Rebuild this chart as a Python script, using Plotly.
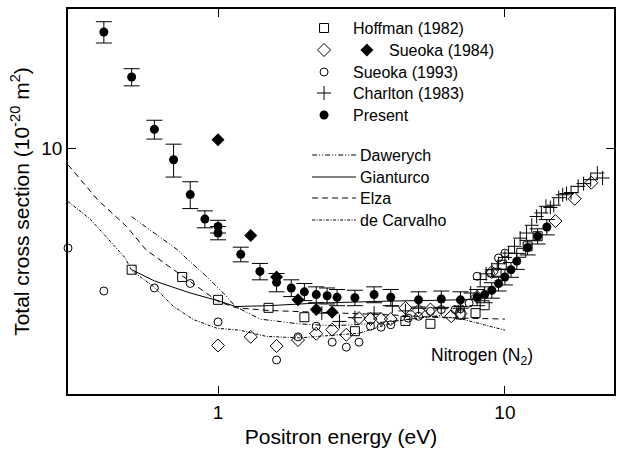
import plotly.graph_objects as go

# ---------------- data (energy in eV, cross section in 1e-20 m^2) ----------------
present_E = [0.4, 0.5, 0.6, 0.7, 0.8, 0.9, 1.0, 1.0, 1.2, 1.4, 1.6, 1.8, 2.0, 2.2, 2.4, 2.6,
             3.0, 3.5, 4.0, 5.0, 6.0, 7.0, 8.0, 8.5, 9.0, 9.5, 10.0, 10.5, 11.0, 12.0, 13.0, 14.0]
present_S = [21.5, 16.0, 11.35, 9.3, 7.4, 6.3, 6.0, 5.75, 5.0, 4.47, 4.16, 4.01, 3.91, 3.84, 3.81, 3.77,
             3.76, 3.84, 3.77, 3.71, 3.73, 3.71, 3.77, 3.84, 3.95, 4.13, 4.31, 4.52, 4.78, 5.23, 5.63, 5.98]
present_err = [1.5, 0.9, 0.7, 1.0, 0.65, 0.35, 0.25, 0.25, 0.24, 0.24, 0.25, 0.22, 0.22, 0.2, 0.2, 0.2,
               0.19, 0.2, 0.2, 0.2, 0.2, 0.2, 0.2, 0.2, 0.2, 0.2, 0.22, 0.22, 0.25, 0.25, 0.28, 0.3]

hoffman_E = [0.5, 0.75, 1.0, 1.5, 2.0, 3.0, 4.5, 5.5, 7.0, 7.9, 8.5, 9.35, 9.75, 11.4, 12.0, 13.0]
hoffman_S = [4.52, 4.31, 3.71, 3.52, 3.31, 3.02, 3.23, 3.17, 3.37, 3.4, 3.58, 4.43, 4.67, 5.05, 5.27, 5.63]

sueoka84_open_E = [1.0, 1.3, 1.6, 1.9, 2.2, 2.5, 2.8, 3.1, 3.4, 3.7, 4.0, 4.5, 5.0, 5.5, 6.5, 7.0,
                   8.0, 9.0, 15.0, 17.5, 20.0]
sueoka84_open_S = [2.75, 2.91, 2.74, 2.85, 2.97, 3.05, 2.95, 3.29, 3.27, 3.27, 3.27, 3.52, 3.46, 3.48, 3.33, 3.39,
                   3.78, 4.45, 6.22, 7.2, 8.0]
sueoka84_fill_E = [1.0, 1.3, 1.6, 1.9, 2.2, 2.5]
sueoka84_fill_S = [10.6, 5.66, 4.31, 3.71, 3.48, 3.42]

sueoka93_E = [0.3, 0.4, 0.6, 0.8, 1.0, 1.6, 1.9, 2.2, 2.5, 2.8, 3.1, 3.4, 3.7, 4.0, 4.6, 5.0, 5.5, 6.0,
              6.7, 7.0, 7.5, 8.0, 8.9, 9.5, 10.0]
sueoka93_S = [5.21, 3.93, 4.01, 4.13, 3.21, 2.5, 2.91, 3.12, 2.81, 2.72, 2.81, 3.12, 3.1, 3.15, 3.29, 3.33, 3.44, 3.48,
              3.48, 3.5, 3.63, 4.33, 4.42, 4.88, 5.04]

charlton_E = [2.3, 2.65, 3.0, 3.5, 4.05, 4.5, 5.0, 6.0, 7.0, 7.6, 8.2, 8.6, 9.0, 9.5, 10.0, 10.3, 10.8, 11.3,
              11.9, 12.4, 12.9, 13.4, 13.9, 14.4, 14.8, 15.4, 15.9, 16.4, 17.0, 18.0, 18.8, 19.9, 21.0, 21.9]
charlton_S = [3.40, 3.22, 3.3, 3.4, 3.56, 3.45, 3.54, 3.5, 3.55, 3.88, 4.24, 4.4, 4.52, 4.7, 4.9, 5.04, 5.27, 5.56,
              5.75, 6.05, 6.41, 6.56, 6.85, 6.8, 6.9, 7.25, 7.39, 7.45, 7.5, 7.81, 7.95, 8.16, 8.52, 8.25]

dawerych_E = [0.5, 0.63, 0.72, 0.77, 0.91, 1.07, 1.15, 1.4, 1.9, 2.5, 3.0, 4.0, 5.0, 6.0]
dawerych_S = [6.4, 5.57, 5.16, 4.9, 4.33, 3.8, 3.55, 3.27, 3.17, 3.13, 3.15, 3.22, 3.3, 3.35]

gianturco_E = [0.5, 0.6, 0.8, 1.0, 1.15, 1.5, 2.2, 2.9, 4.0, 6.0, 8.0]
gianturco_S = [4.52, 4.2, 3.88, 3.69, 3.55, 3.57, 3.63, 3.66, 3.68, 3.7, 3.72]

elza_E = [0.3, 0.38, 0.48, 0.56, 0.61, 0.74, 0.91, 1.0, 1.16, 1.5, 2.0, 2.5, 4.0, 6.0, 10.0]
elza_S = [9.0, 7.16, 6.0, 5.16, 4.9, 4.38, 3.88, 3.67, 3.52, 3.46, 3.43, 3.41, 3.36, 3.3, 3.27]

carvalho_E = [0.3, 0.36, 0.475, 0.5, 0.595, 0.7, 0.82, 0.99, 1.19, 1.47, 1.92, 3.1, 4.26, 5.57, 6.89, 10.0]
carvalho_S = [7.07, 6.28, 4.88, 4.5, 4.05, 3.55, 3.26, 3.08, 3.04, 2.92, 2.89, 2.98, 3.23, 3.33, 3.29, 3.04]

x_major = [1, 10]
x_minor = [0.4, 0.5, 0.6, 0.7, 0.8, 0.9, 2, 3, 4, 5, 6, 7, 8, 9, 20]
y_major = [10]
y_minor = [3, 4, 5, 6, 7, 8, 9, 20]

# ---------------- styles ----------------
FONT = "Liberation Sans, Arial, Helvetica, sans-serif"
BLK = "black"
DASH_DAW = "5px,2px,1px,2px,1px,2px"
DASH_ELZA = "6px,4px"
DASH_CAR = "3px,1.5px,1px,1.5px"
XR = [-0.5229, 1.3802]
YR = [0.30103, 1.39794]

fig = go.Figure()


def add_line(x, y, dash, xa="x", ya="y"):
    fig.add_trace(go.Scatter(x=x, y=y, mode="lines", xaxis=xa, yaxis=ya,
                             line=dict(color=BLK, width=1, dash=dash),
                             showlegend=False, hoverinfo="skip"))


add_line(dawerych_E, dawerych_S, DASH_DAW)
add_line(gianturco_E, gianturco_S, "solid")
add_line(elza_E, elza_S, DASH_ELZA)
add_line(carvalho_E, carvalho_S, DASH_CAR)

open_line = dict(color=BLK, width=1)
sty = {
    "sq": dict(symbol="square-open", size=9, color=BLK, line=open_line),
    "dio": dict(symbol="diamond-open", size=10, color=BLK, line=open_line),
    "dif": dict(symbol="diamond", size=10, color=BLK, line=dict(width=0)),
    "ci": dict(symbol="circle-open", size=8, color=BLK, line=open_line),
    "pl": dict(symbol="cross-thin-open", size=10, color=BLK, line=dict(color=BLK, width=1)),
    "cf": dict(symbol="circle", size=9, color=BLK, line=dict(width=0)),
}


def add_pts(x, y, key, clip=True, **kw):
    fig.add_trace(go.Scatter(x=x, y=y, mode="markers", marker=sty[key], cliponaxis=clip,
                             showlegend=False, **kw))


add_pts(charlton_E, charlton_S, "pl")
add_pts(sueoka93_E, sueoka93_S, "ci", clip=False)
add_pts(sueoka84_open_E, sueoka84_open_S, "dio")
add_pts(hoffman_E, hoffman_S, "sq")
add_pts(sueoka84_fill_E, sueoka84_fill_S, "dif")
add_pts(present_E, present_S, "cf",
        error_y=dict(type="data", array=present_err, color=BLK, thickness=1, width=8))

# ---------------- hand-drawn legend on an overlay pixel axis ----------------
leg_sym_x = 325
leg_txt_x = 352
leg_rows = [
    ("sq", 28, "Hoffman (1982)"),
    ("dio", 50, None),
    ("ci", 72, "Sueoka (1993)"),
    ("pl", 93, "Charlton (1983)"),
    ("cf", 115, "Present"),
]
annotations = []
for key, yy, label in leg_rows:
    fig.add_trace(go.Scatter(x=[leg_sym_x], y=[yy], xaxis="x2", yaxis="y2", mode="markers",
                             marker=sty[key], showlegend=False, hoverinfo="skip"))
    if label:
        annotations.append(dict(x=leg_txt_x, y=yy, xref="x2", yref="y2", text=label,
                                showarrow=False, xanchor="left", yanchor="middle",
                                font=dict(family=FONT, size=16, color=BLK)))
fig.add_trace(go.Scatter(x=[368], y=[50], xaxis="x2", yaxis="y2", mode="markers",
                         marker=sty["dif"], showlegend=False, hoverinfo="skip"))
annotations.append(dict(x=388, y=50, xref="x2", yref="y2", text="Sueoka (1984)",
                        showarrow=False, xanchor="left", yanchor="middle",
                        font=dict(family=FONT, size=16, color=BLK)))

line_rows = [(DASH_DAW, 155, "Dawerych"), ("solid", 177, "Gianturco"),
             (DASH_ELZA, 198, "Elza"), (DASH_CAR, 220, "de Carvalho")]
for dash, yy, label in line_rows:
    add_line([313, 357], [yy, yy], dash, xa="x2", ya="y2")
    annotations.append(dict(x=359, y=yy, xref="x2", yref="y2", text=label,
                            showarrow=False, xanchor="left", yanchor="middle",
                            font=dict(family=FONT, size=16, color=BLK)))

annotations.append(dict(x=484, y=356, xref="x2", yref="y2", text="Nitrogen (N<sub>2</sub>)",
                        showarrow=False, xanchor="center", yanchor="middle",
                        font=dict(family=FONT, size=17.5, color=BLK)))

axis_common = dict(type="log", showgrid=False, zeroline=False, showline=True, linecolor=BLK,
                   linewidth=1.5, mirror="allticks", ticks="inside", ticklen=8, tickwidth=1.2,
                   tickcolor=BLK, tickmode="array",
                   tickfont=dict(family=FONT, size=19, color=BLK))

# overlay axes that only carry the short (minor) ticks on all four sides
minor_common = dict(type="log", showgrid=False, zeroline=False, showline=False,
                    ticks="inside", ticklen=4, tickwidth=1.2, tickcolor=BLK,
                    tickmode="array", showticklabels=False, fixedrange=True)

fig.update_layout(
    width=618, height=452,
    margin=dict(l=68, r=2, t=9, b=58),
    paper_bgcolor="white", plot_bgcolor="white",
    font=dict(family=FONT, color=BLK),
    xaxis=dict(axis_common, range=XR, tickvals=x_major, ticktext=["1", "10"],
               title=dict(text="Positron energy (eV)", font=dict(family=FONT, size=21, color=BLK),
                          standoff=8)),
    yaxis=dict(axis_common, range=YR, tickvals=y_major, ticktext=["10"],
               title=dict(text="Total cross section (10<sup>-20</sup> m<sup>2</sup>)",
                          font=dict(family=FONT, size=21, color=BLK), standoff=6)),
    xaxis2=dict(overlaying="x", anchor="y2", range=[68, 616], visible=False, fixedrange=True),
    yaxis2=dict(overlaying="y", anchor="x2", range=[394, 9], visible=False, fixedrange=True),
    xaxis3=dict(minor_common, overlaying="x", anchor="y", side="bottom", range=XR, tickvals=x_minor),
    xaxis4=dict(minor_common, overlaying="x", anchor="y", side="top", range=XR, tickvals=x_minor),
    yaxis3=dict(minor_common, overlaying="y", anchor="x", side="left", range=YR, tickvals=y_minor),
    yaxis4=dict(minor_common, overlaying="y", anchor="x", side="right", range=YR, tickvals=y_minor),
    annotations=annotations,
    showlegend=False,
)

fig.write_html("out.html")
